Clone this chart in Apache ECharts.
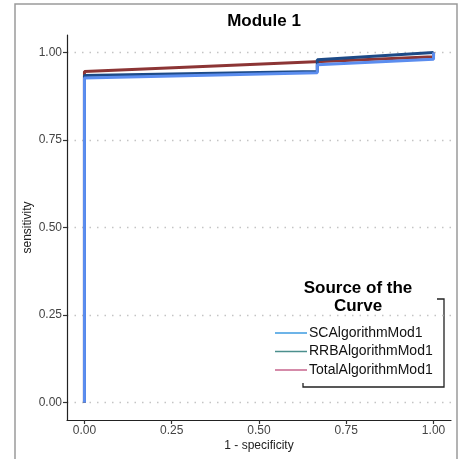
<!DOCTYPE html>
<html>
<head>
<meta charset="utf-8">
<script src="https://cdn.jsdelivr.net/npm/echarts@6/dist/echarts.min.js"></script>
<style>
html, body { margin: 0; padding: 0; background: #fff; }
#chart { width: 461px; height: 459px; }
</style>
</head>
<body>
<div id="chart"></div>
<script>
// ROC curves, points are [1 - specificity, sensitivity]
var seriesNames = ['SCAlgorithmMod1', 'RRBAlgorithmMod1', 'TotalAlgorithmMod1'];
var scPoints = [[0, 0], [0, 0.927], [0.667, 0.942], [0.667, 0.965], [1, 0.981], [1, 1]];
var rrbPoints = [[0, 0], [0, 0.934], [0.667, 0.946], [0.667, 0.979], [1, 1]];
var totalPoints = [[0, 0], [0, 0.946], [1, 0.988], [1, 1]];
var tickValues = [0, 0.25, 0.5, 0.75, 1];

var lineColors = ['#5b8def', '#1d4a87', '#8c3535'];
var legendColors = ['#3d9be0', '#4b8f8d', '#c7658c'];

var chart = echarts.init(document.getElementById('chart'));
var font = 'Liberation Sans, Arial, sans-serif';

function axisCommon(name) {
	return {
		type: 'value',
		min: -0.05,
		max: 1.05,
		name: name,
		nameLocation: 'middle',
		nameMoveOverlap: false,
		nameTextStyle: { color: '#222', fontSize: 12, fontFamily: font },
		axisLine: { show: true, onZero: false, lineStyle: { color: '#222', width: 1.2 } },
		axisTick: { show: true, length: 4, customValues: tickValues, lineStyle: { color: '#333', width: 1.2 } },
		axisLabel: {
			customValues: tickValues,
			color: '#444',
			fontSize: 12,
			fontFamily: font,
			formatter: function(v) { return v.toFixed(2); }
		},
		splitLine: { show: false }
	};
}

var xAxis = axisCommon('1 - specificity');
xAxis.nameGap = 20;
xAxis.axisLabel.margin = 5;

var yAxis = axisCommon('sensitivity');
yAxis.nameGap = 33;
yAxis.axisLabel.margin = 5;
yAxis.splitLine = { show: true, lineStyle: { color: '#c4c4c4', type: [1.5, 6], width: 1.3 } };

function makeSeries(i, pts, z) {
	return {
		type: 'line',
		name: seriesNames[i],
		data: pts,
		showSymbol: false,
		symbol: 'none',
		z: z,
		lineStyle: { color: lineColors[i], width: 3 },
		itemStyle: { color: lineColors[i] }
	};
}

var option = {
	animation: false,
	title: {
		text: 'Module 1',
		left: 259,
		top: 8,
		textAlign: 'center',
		textStyle: { fontSize: 17, fontWeight: 'bold', color: '#000', fontFamily: font }
	},
	grid: { left: 67, right: 10, top: 35, bottom: 39, containLabel: false },
	xAxis: xAxis,
	yAxis: yAxis,
	legend: {
		orient: 'vertical',
		left: 270,
		top: 320,
		icon: 'rect',
		itemWidth: 32,
		itemHeight: 1.5,
		itemGap: 2.5,
		selectedMode: false,
		textStyle: { fontSize: 14, lineHeight: 16, color: '#111', fontFamily: font, padding: [0, 0, 0, -3] },
		data: seriesNames.map(function(n, i) {
			return { name: n, itemStyle: { color: legendColors[i] } };
		})
	},
	graphic: [
		{
			type: 'rect',
			shape: { x: 15, y: 4, width: 442, height: 470 },
			style: { fill: 'none', stroke: '#9a9a9a', lineWidth: 1.5 },
			silent: true
		},
		{
			type: 'text',
			x: 358,
			y: 279,
			style: {
				text: 'Source of the\nCurve',
				align: 'center',
				verticalAlign: 'top',
				font: 'bold 17px ' + font,
				fill: '#000',
				lineHeight: 18
			}
		},
		{
			type: 'polyline',
			shape: { points: [[437, 299], [444, 299], [444, 387], [303, 387], [303, 383]] },
			style: { stroke: '#222', lineWidth: 1.3, fill: 'none' },
			silent: true
		}
	],
	series: [
		makeSeries(2, totalPoints, 2),
		makeSeries(1, rrbPoints, 3),
		makeSeries(0, scPoints, 4)
	]
};
chart.setOption(option);
</script>
</body>
</html>
